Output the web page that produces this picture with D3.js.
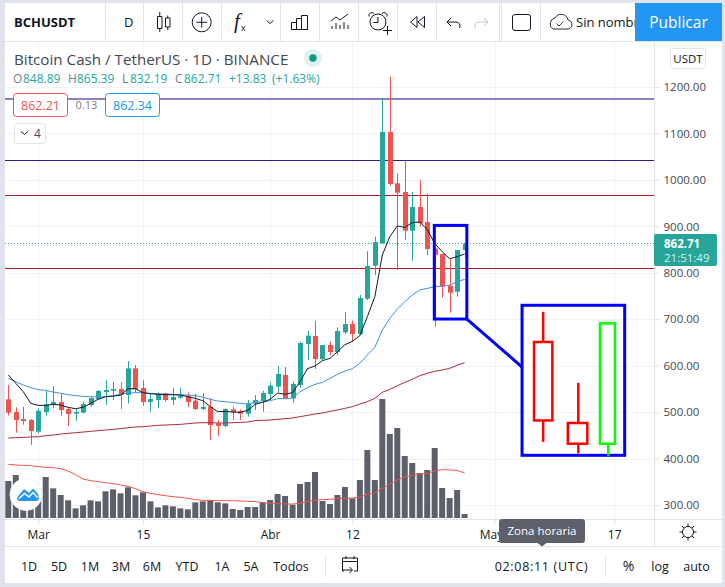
<!DOCTYPE html>
<html>
<head>
<title>BCHUSDT</title>
<meta charset="UTF-8">
<style type="text/css">
html, body { margin: 0; padding: 0; background: #fff; overflow: hidden; }
svg { display: block; }
text { font-family: "Open Sans", "Noto Sans", sans-serif; fill: #131722; }
.domain { display: none; }
</style>
<script src="https://d3js.org/d3.v7.min.js"></script>
</head>
<body>
<script type="text/javascript">
// one entry per daily bar, 25 Feb .. 27 Apr
var opens = [527.5,500.2,485.1,483,457.9,500.2,515.3,521.7,506.6,496.6,498.8,515.3,528.2,543.3,546.1,549.7,536.8,594.2,551.9,521.7,526,540.4,526,531,535.4,524.6,506.6,511.7,475.8,470,
  506,501.7,496.6,518.2,523.9,539,554.8,579.9,529.6,558.4,646.6,663.9,614.3,644.5,629.4,671.8,689.7,668.2,744.2,815.2,863.3,1103.1,992.6,973.9,890.6,941.6,909.3,852.6,840.4,772.2,759.3,848.89];
var closes = [498.8,483,480.8,459.3,503.1,516.7,521.7,504.5,495.9,500.2,517.4,530.3,545.4,547.6,549.7,536.8,594.2,549,521.7,528.2,538.9,526,532.5,535.4,521.7,506.6,511,472.2,470,506.6,
  499.5,496.6,518.2,526,541.1,556.9,582,529.6,560.5,648.8,664.6,614.3,644.5,629.4,674.6,689.7,668.2,745.7,814.5,866.2,1103.1,991.1,972.4,890.6,941.6,906.4,851.1,838.2,770,757.1,849,862.71];
var highs = [558.3,510.2,511.7,485.1,508.1,547.6,556.2,540.4,510.2,508.1,522.4,531.8,547.6,569.1,564.8,564,610,601.4,569.1,540.4,542.5,541.8,552.6,552.6,542.5,538.9,540.4,529.6,483,508.1,
  511.7,506,526,536.8,546.2,563.4,599.3,597.1,565.5,651.7,674.6,696.2,644.5,651.7,682.5,715.6,696.9,752.2,846.8,877.7,1175.6,1222.2,1014.1,1041.4,973.2,999.7,971,852.6,840.4,828.9,849,865.39];
var lows = [492.3,455.7,472.9,429.1,454.3,492.3,508.1,492.3,470,481.5,497.3,511.7,527.5,515.3,526,506.6,518.8,542.5,513.8,500.2,508.1,522.4,515.3,528.2,511.7,504.5,504.5,439.9,448.5,467.2,
  483,483,490.2,504.5,500.9,526,544,529.6,520.3,552.6,612.2,592.8,612.2,623,623,668.2,651.7,666,741.3,795.1,863.3,986.8,805.9,870.5,826,899.2,838.2,683.9,746.3,714,748.5,832.19];
var volumes = [111,129,62,55,58,123,89,69,53,29,38,53,50,80,86,74,92,68,77,50,32,38,35,29,26,47,50,53,47,44,
  27,24,33,33,47,54,72,66,40,102,108,138,51,42,69,93,59,114,204,114,357,252,270,186,165,135,144,210,90,60,84,12];

var maFast = [579.9,561.9,544,518.8,514.5,514.5,516.7,515.3,510.2,507.4,510.2,518.8,527.5,533.2,534.6,536.1,550.4,550.4,541.8,539.7,538.2,537.5,537.5,536.8,533.2,529.6,524.6,511.7,500.9,501.6,
  500.2,499.5,503.8,516.7,521,527.5,541.1,538.3,541.9,565.5,593.5,599.3,610.8,615.8,630.1,645.2,652.4,665,705.4,748.5,838.2,877.7,900.7,897.8,907.9,909.3,893.5,863.3,845.4,830.3,834.6,840.4];
var maMid = [572.7,565.5,558.3,552.6,548.3,546.8,543.3,540.4,537.5,535.4,533.9,533.2,532.5,533.2,534.6,538.9,541.1,541.8,541.8,540.4,539.7,538.9,538.2,537.5,536.8,535.4,532.5,527.5,523.9,522.4,
  521,518.8,517.4,521,521.8,524.6,528.9,528.9,530.4,544,552.6,559.8,564.1,572.7,581.3,588.5,593.5,605,623,639.5,676.7,701.8,721.9,737.7,752.1,762.9,766.4,770,771.5,773.6,780.8,785.8];
var maSlow = [444.2,444.9,445.6,446.4,447,449.2,450.7,452.8,454.3,455.7,457.1,458.6,460,461.4,462.9,464.3,466.4,467.9,468.6,470,471.5,472.2,472.9,473.6,475.1,476.5,477.2,477.2,476.5,476.5,
  477.2,477.9,478.6,481.6,482.3,483,484.4,485.9,487.3,490.2,493,495.9,498,501.7,504.5,508.1,511.7,517.4,522.5,529.6,542.6,549,556.8,564,570.6,578.4,583.5,587.8,590.7,594.3,600.7,606.3];
var maVolume = [161,159,158,157,154,152,151,148,141,130,117,112,109,106,103,99,95,88,79,74,70,67,64,62,59,55,53,53,52,52,
  52,51,50,49,46,44,43,42,42,44,49,54,55,56,58,59,60,63,71,75,89,102,114,123,128,131,134,141,145,144,143,135];

var priceTicks = [300,400,500,600,700,800,900,1000,1100,1200];
var timeTickBars = [4,18,35,46,65,81];
var timeTickLabels = ["Mar","15","Abr","12","May","17"];
var levels = [1175,1042,967,809];
var levelColors = ["#8d80c9","#311b92","#a81c24","#b71c1c"];
var rangeButtons = ["1D","5D","1M","3M","6M","YTD","1A","5A","Todos"];

// hand drawn sketch on top of the chart, bar index / price
var boxSmall = [56.95,61.3,902,700.4];
var boxBig = [68.68,82.4,730,407];
var connector = [[61.3,700.4],[68.68,597]];
var sketchCandles = [
  {bar:71.5,left:70.28,right:72.73,high:716,top:651,bottom:482,low:436,color:"#ff0000"},
  {bar:76.2,left:74.8,right:77.4,high:563,top:476.5,bottom:432,low:411,color:"#ff0000"},
  {bar:80.2,left:79.1,right:81.1,high:691,top:691,bottom:432,low:406,color:"#00ff00"}
];

var up = "#26a69a", down = "#ef5350", grid = "#f0f3fa", border = "#e0e3eb";
var width = 725, height = 587;

var svg = d3.select("body").append("svg").attr("width", width).attr("height", height);

var x = d3.scaleLinear().domain([0, 61]).range([8.3, 464.6]);
var y = d3.scaleLinear().domain([300, 1200]).range([505, 87]);
var yVol = d3.scaleLinear().domain([0, 357]).range([518, 399]);

svg.append("rect").attr("width", width).attr("height", height).attr("fill", "#fff");

svg.append("defs").append("clipPath").attr("id", "pane")
  .append("rect").attr("x", 5).attr("y", 42).attr("width", 649).attr("height", 477);

// grid
var gridG = svg.append("g");
gridG.selectAll("line.h").data(priceTicks).enter().append("line")
  .attr("x1", 5).attr("x2", 654)
  .attr("y1", function(d) { return Math.round(y(d)) + 0.5; })
  .attr("y2", function(d) { return Math.round(y(d)) + 0.5; })
  .attr("stroke", grid);
gridG.selectAll("line.v").data(timeTickBars).enter().append("line")
  .attr("x1", function(d) { return Math.round(x(d)) + 0.5; })
  .attr("x2", function(d) { return Math.round(x(d)) + 0.5; })
  .attr("y1", 42).attr("y2", 519)
  .attr("stroke", grid);

// volume
var bars = d3.range(opens.length);
var chart = svg.append("g").attr("clip-path", "url(#pane)");
chart.selectAll("rect.vol").data(bars).enter().append("rect")
  .attr("x", function(i) { return x(i) - 3; })
  .attr("width", 6)
  .attr("y", function(i) { return yVol(volumes[i]); })
  .attr("height", function(i) { return yVol(0) - yVol(volumes[i]); })
  .attr("fill", "#5d606b");

var volLine = d3.line().x(function(d, i) { return x(i); }).y(function(d) { return yVol(d); });
chart.append("path").attr("d", volLine(maVolume)).attr("fill", "none")
  .attr("stroke", "#ef5350").attr("stroke-width", 1);

// drawn levels
chart.selectAll("line.level").data(levels).enter().append("line")
  .attr("x1", 5).attr("x2", 654)
  .attr("y1", function(d, i) { return i == 0 ? Math.round(y(d)) : Math.floor(y(d)) + 0.5; })
  .attr("y2", function(d, i) { return i == 0 ? Math.round(y(d)) : Math.floor(y(d)) + 0.5; })
  .attr("stroke", function(d, i) { return levelColors[i]; })
  .attr("stroke-width", function(d, i) { return i == 0 ? 2 : 1; });

// last price
chart.append("line")
  .attr("x1", 5).attr("x2", 654)
  .attr("y1", Math.floor(y(862.71)) + 0.5).attr("y2", Math.floor(y(862.71)) + 0.5)
  .attr("stroke", up).attr("stroke-dasharray", "1 2");

// candles
chart.selectAll("line.wick").data(bars).enter().append("line")
  .attr("x1", function(i) { return Math.round(x(i)) + 0.5; })
  .attr("x2", function(i) { return Math.round(x(i)) + 0.5; })
  .attr("y1", function(i) { return y(highs[i]); })
  .attr("y2", function(i) { return y(lows[i]); })
  .attr("stroke", function(i) { return closes[i] >= opens[i] ? up : down; });
chart.selectAll("rect.body").data(bars).enter().append("rect")
  .attr("x", function(i) { return Math.round(x(i)) - 2; })
  .attr("width", 5)
  .attr("y", function(i) { return y(Math.max(opens[i], closes[i])); })
  .attr("height", function(i) { return Math.max(1, Math.abs(y(opens[i]) - y(closes[i]))); })
  .attr("fill", function(i) { return closes[i] >= opens[i] ? up : down; });

// moving averages
var maLine = d3.line().x(function(d, i) { return x(i); }).y(function(d) { return y(d); });
chart.append("path").attr("d", maLine(maSlow)).attr("fill", "none").attr("stroke", "#b2283a").attr("stroke-width", 1);
chart.append("path").attr("d", maLine(maMid)).attr("fill", "none").attr("stroke", "#3f8fe6").attr("stroke-width", 1);
chart.append("path").attr("d", maLine(maFast)).attr("fill", "none").attr("stroke", "#131722").attr("stroke-width", 1);

// price axis
var yAxis = d3.axisRight(y).tickValues(priceTicks).tickSize(5).tickPadding(4)
  .tickFormat(function(d) { return d3.format(".2f")(d); });
var yG = svg.append("g").attr("transform", "translate(654.5,0)").call(yAxis);
yG.selectAll("text").style("font-size", "11.5px").style("fill", "#434651");
yG.selectAll("line").attr("stroke", border);

// time axis
var xAxis = d3.axisBottom(x).tickValues(timeTickBars).tickSize(5).tickPadding(6)
  .tickFormat(function(d, i) { return timeTickLabels[i]; });
var xG = svg.append("g").attr("transform", "translate(0,519.5)").call(xAxis);
xG.selectAll("text").style("font-size", "12px").style("fill", "#131722")
  .attr("dx", function(d, i) { return timeTickLabels[i] == "May" ? -3.5 : 0; });
xG.selectAll("line").attr("stroke", border);

// pane frame
function hline(y0, x0, x1, c) {
  svg.append("line").attr("x1", x0).attr("x2", x1).attr("y1", y0).attr("y2", y0).attr("stroke", c || border);
}
function vline(x0, y0, y1, c) {
  svg.append("line").attr("x1", x0).attr("x2", x0).attr("y1", y0).attr("y2", y1).attr("stroke", c || border);
}
function label(t, px, py, size, color, anchor, weight) {
  return svg.append("text").attr("x", px).attr("y", py).text(t)
    .style("font-size", size + "px").style("fill", color || "#131722")
    .attr("text-anchor", anchor || "start").style("font-weight", weight || "normal");
}
function ico(d, sw, c) {
  return svg.append("path").attr("d", d).attr("fill", "none")
    .attr("stroke", c || "#131722").attr("stroke-width", sw || 1);
}
hline(519.5, 5, 722);
hline(546.5, 5, 722);
hline(41.5, 5, 722);
vline(654.5, 42, 546);

// outer chrome
svg.append("rect").attr("x", 0).attr("y", 0).attr("width", 5).attr("height", height).attr("fill", border);
svg.append("rect").attr("x", 722).attr("y", 0).attr("width", 3).attr("height", height).attr("fill", border);
svg.append("rect").attr("x", 0).attr("y", 0).attr("width", width).attr("height", 3).attr("fill", border);
svg.append("rect").attr("x", 0).attr("y", 583).attr("width", width).attr("height", 4).attr("fill", border);

// top toolbar
[105.5,143.5,182.5,221.5,280.5,319.5,358.5,397.5,436.5,499.5,501.5,540.5].forEach(function(p) { vline(p, 3, 41); });
label("BCHUSDT", 14, 27, 13, "#131722", "start", "bold");
label("D", 124, 27, 13);
ico("M157.5 16.5h4.5v12h-4.5zM159.75 12v4.5M159.75 28.5V32M165.5 18h4.5v9h-4.5zM167.75 15.5V18M167.75 27v3");
ico("M192.2 22.3a9.5 9.5 0 1 0 19 0a9.5 9.5 0 1 0 -19 0M201.7 17v10.6M196.4 22.3h10.6");
svg.append("text").attr("x", 234).attr("y", 28).text("f").style("font-family", "Liberation Serif").style("font-style", "italic").style("font-size", "21px");
label("x", 241, 31, 9);
ico("M266.5 20.5l3.5 3 3.5-3");
ico("M291.5 29.5V22.5h5v7M296.5 29.5V18.5h5v11M301.5 29.5V15.5h6v14M291 29.5h17");
ico("M331 21l5-4 4 3 8-6M332 29v-3M336 29v-6M340 29v-4M344 29v-7M348 29v-4");
ico("M370 22a8 8 0 1 0 16 0a8 8 0 1 0 -16 0M378 17v5.5h-4.5M369 16.5a3 3 0 0 1 5-3M382 13.5a3 3 0 0 1 5 3M383 30.5h9M387.5 26v9");
ico("M417 16.5l-6.5 5.5 6.5 5.5zM424.5 16.5l-6.5 5.5 6.5 5.5z");
ico("M447 22h9a4 4 0 0 1 3.5 6M451 18l-4 4 4 4");
ico("M488 22h-9a4 4 0 0 0 -3.5 6M484 18l4 4-4 4", 1, "#c4c6cc");
svg.append("rect").attr("x", 512.5).attr("y", 14.5).attr("width", 18).attr("height", 16).attr("rx", 2.5)
  .attr("fill", "none").attr("stroke", "#131722");
ico("M553 29h14a4.5 4.5 0 0 0 1-9a7 7 0 0 0 -13 -2a6 6 0 0 0 -2 11zM556.5 23.5l2.5 2.5 4.5-4.5", 0.9);
label("Sin nombre", 576, 27, 13);
svg.append("rect").attr("x", 635).attr("y", 3).attr("width", 87).attr("height", 38).attr("fill", "#2196f3");
label("Publicar", 678.5, 28, 15.5, "#fff", "middle");

// legend
label("Bitcoin Cash / TetherUS · 1D · BINANCE", 14, 65, 15.2, "#434651");
svg.append("circle").attr("cx", 313).attr("cy", 58).attr("r", 9).attr("fill", "#dff2ef");
svg.append("circle").attr("cx", 313).attr("cy", 58).attr("r", 3.7).attr("fill", "#089981");
var gray = "#787b86";
[["O",13,gray],["848.89",23,up],["H",68,gray],["865.39",77,up],["L",122,gray],["832.19",130,up],["C",175,gray],["862.71",184,up],["+13.83",229,up],["(+1.63%)",272,up]].forEach(function(p) {
  label(p[0], p[1], 83, 12, p[2]);
});

svg.append("rect").attr("x", 13.5).attr("y", 93.5).attr("width", 54).attr("height", 23).attr("rx", 3)
  .attr("fill", "#fff").attr("stroke", down);
label("862.21", 40.5, 110, 12.5, down, "middle");
label("0.13", 86.5, 109, 11, gray, "middle");
svg.append("rect").attr("x", 105.5).attr("y", 93.5).attr("width", 54).attr("height", 23).attr("rx", 3)
  .attr("fill", "#fff").attr("stroke", "#2196f3");
label("862.34", 132.5, 110, 12.5, "#2196f3", "middle");
svg.append("rect").attr("x", 14.5).attr("y", 123.5).attr("width", 31).attr("height", 20).attr("rx", 3)
  .attr("fill", "#fff").attr("stroke", border);
ico("M21 131.5l3.5 3 3.5-3");
label("4", 37.5, 138, 12, "#434651", "middle");

// usdt button, last price tag
svg.append("rect").attr("x", 670.5).attr("y", 48.5).attr("width", 35).attr("height", 20).attr("rx", 3)
  .attr("fill", "#fff").attr("stroke", border);
label("USDT", 688, 63, 11.5, "#131722", "middle");
svg.append("rect").attr("x", 654).attr("y", 234).attr("width", 63).attr("height", 32).attr("rx", 2).attr("fill", up);
label("862.71", 664, 248, 11.5, "#fff", "start", "bold");
label("21:51:49", 664, 262, 11.5, "#d6f0ed");

// logo
svg.append("circle").attr("cx", 26).attr("cy", 494.5).attr("r", 16).attr("fill", "#fff").attr("stroke", "#f0f3fa");
svg.append("path").attr("d", "M17.5 497L24 489L29 493L33 488.5L38 494Q40.5 501 36 501H21Q16 501 17.5 497Z").attr("fill", "#2196f3");
ico("M19 498.5L24.5 493.5L29 497L33 492.5L37.5 497.5", 1.5, "#fff");

// gear
ico("M682.5 532a5.5 5.5 0 1 0 11 0a5.5 5.5 0 1 0 -11 0M688 523.5v3M688 537.5v3M679.5 532h3M693.5 532h3M682 526l2 2M692 536l2 2M694 526l-2 2M684 536l-2 2");

// tooltip
svg.append("rect").attr("x", 499).attr("y", 519).attr("width", 86).attr("height", 24).attr("rx", 3).attr("fill", "#5d606b");
svg.append("path").attr("d", "M537.5 543l4.5 3.5 4.5-3.5z").attr("fill", "#5d606b");
label("Zona horaria", 542, 535, 11.5, "#fff", "middle");

// bottom toolbar
var rangeX = [29,59,90,121,152,187,222,251,291];
rangeButtons.forEach(function(t, i) { label(t, rangeX[i], 571, 12.5, "#131722", "middle"); });
vline(325.5, 555, 577);
ico("M344 571h-1.5v-13h15v13h-3.5M342.5 561.5h15M346 556v3M354 556v3M343 570h9M349.5 567l3 3-3 3");
label("02:08:11 (UTC)", 541.5, 571, 12.5, "#131722", "middle").style("letter-spacing", "0.7px");
vline(605.5, 555, 577);
label("%", 628.5, 571, 14, "#131722", "middle");
label("log", 660, 571, 12.5, "#131722", "middle");
label("auto", 696.5, 571, 12.5, "#131722", "middle");

// sketch in blue, red and green on top
function frame(b) {
  svg.append("rect")
    .attr("x", x(b[0])).attr("y", y(b[2]))
    .attr("width", x(b[1]) - x(b[0])).attr("height", y(b[3]) - y(b[2]))
    .attr("fill", "none").attr("stroke", "#0000ff").attr("stroke-width", 3);
}
frame(boxSmall);
frame(boxBig);
svg.append("path").attr("d", d3.line().x(function(d) { return x(d[0]); }).y(function(d) { return y(d[1]); })(connector))
  .attr("fill", "none").attr("stroke", "#0000ff").attr("stroke-width", 3);
sketchCandles.forEach(function(c) {
  svg.append("line").attr("x1", x(c.bar)).attr("x2", x(c.bar)).attr("y1", y(c.high)).attr("y2", y(c.top))
    .attr("stroke", c.color).attr("stroke-width", 2.5);
  svg.append("line").attr("x1", x(c.bar)).attr("x2", x(c.bar)).attr("y1", y(c.bottom)).attr("y2", y(c.low))
    .attr("stroke", c.color).attr("stroke-width", 2.5);
  svg.append("rect").attr("x", x(c.left)).attr("y", y(c.top))
    .attr("width", x(c.right) - x(c.left)).attr("height", y(c.bottom) - y(c.top))
    .attr("fill", "#fff").attr("stroke", c.color).attr("stroke-width", 2.5);
});
</script>
</body>
</html>
